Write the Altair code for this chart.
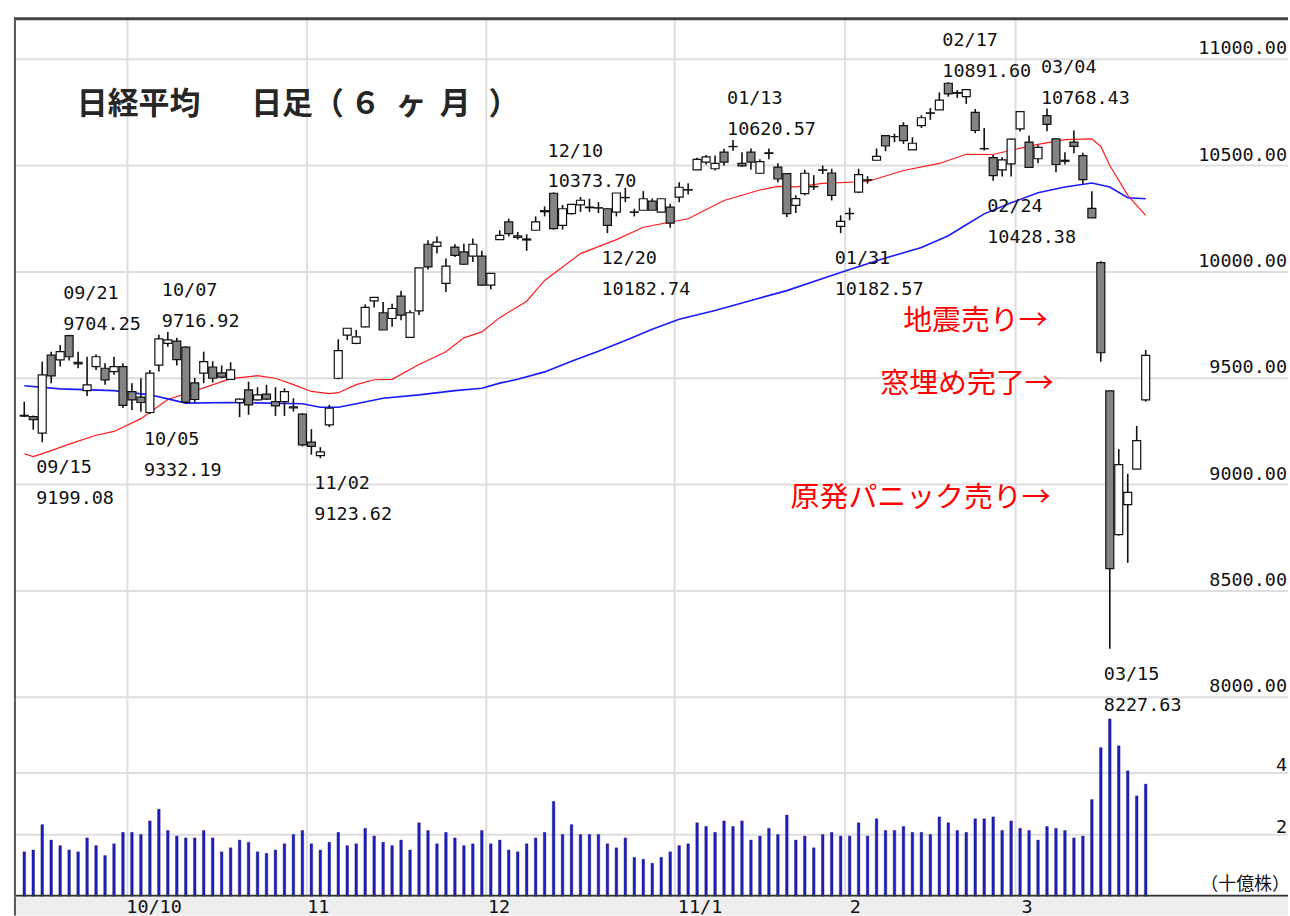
import altair as alt
import pandas as pd

# ---------------- data ----------------
sep = ["09/13", "09/14", "09/15", "09/16", "09/17", "09/21", "09/22", "09/24", "09/27", "09/28", "09/29", "09/30"]
oct_ = ["10/01", "10/04", "10/05", "10/06", "10/07", "10/08", "10/12", "10/13", "10/14", "10/15", "10/18", "10/19",
        "10/20", "10/21", "10/22", "10/25", "10/26", "10/27", "10/28", "10/29"]
nov = ["11/01", "11/02", "11/04", "11/05", "11/08", "11/09", "11/10", "11/11", "11/12", "11/15", "11/16", "11/17",
       "11/18", "11/19", "11/22", "11/24", "11/25", "11/26", "11/29", "11/30"]
dec = ["12/01", "12/02", "12/03", "12/06", "12/07", "12/08", "12/09", "12/10", "12/13", "12/14", "12/15", "12/16",
       "12/17", "12/20", "12/21", "12/22", "12/24", "12/27", "12/28", "12/29", "12/30"]
jan = ["01/04", "01/05", "01/06", "01/07", "01/11", "01/12", "01/13", "01/14", "01/17", "01/18", "01/19", "01/20",
       "01/21", "01/24", "01/25", "01/26", "01/27", "01/28", "01/31"]
feb = ["02/01", "02/02", "02/03", "02/04", "02/07", "02/08", "02/09", "02/10", "02/14", "02/15", "02/16", "02/17",
       "02/18", "02/21", "02/22", "02/23", "02/24", "02/25", "02/28"]
mar = ["03/01", "03/02", "03/03", "03/04", "03/07", "03/08", "03/09", "03/10", "03/11", "03/14", "03/15", "03/16",
       "03/17", "03/18", "03/22"]
dates = sep + oct_ + nov + dec + jan + feb + mar

opens = [9325, 9320, 9242, 9609, 9586, 9700, 9575, 9442, 9555, 9547, 9531, 9555,
         9437, 9411, 9339, 9562, 9664, 9675, 9646, 9478, 9524, 9553, 9525, 9495,
         9386, 9445, 9398, 9425, 9390, 9390, 9366, 9331,
         9200, 9136, 9281, 9500, 9703, 9664, 9742, 9864, 9808, 9781, 9886, 9692,
         9817, 10130, 10120, 9946, 10117, 10094, 10074, 10074,
         9938, 10152, 10235, 10170, 10155, 10196, 10283, 10370, 10219, 10274, 10315, 10305,
         10300, 10297, 10281, 10350, 10282, 10290, 10333, 10281, 10305,
         10352, 10385, 10480, 10516, 10485, 10563, 10590, 10510, 10563, 10464, 10560, 10493,
         10462, 10313, 10368, 10400, 10480, 10465, 10214,
         10275, 10375, 10433, 10525, 10641, 10636, 10688, 10574, 10688, 10748, 10762, 10887,
         10840, 10824, 10750, 10580, 10537, 10480, 10508,
         10673, 10610, 10532, 10735, 10626, 10520, 10610, 10547, 10299, 10044, 9441, 8765,
         8906, 9073, 9398]
highs = [9390, 9325, 9578, 9625, 9656, 9704.25, 9625, 9601, 9613, 9570, 9601, 9570,
         9477, 9500, 9539, 9705, 9716.92, 9690, 9650, 9502, 9625, 9580, 9560, 9575,
         9405, 9484, 9458, 9469, 9458, 9453, 9406, 9336,
         9261, 9176, 9375, 9683, 9735, 9727, 9847, 9880, 9859, 9850, 9911, 9820,
         10019, 10149, 10167, 10063, 10130, 10133, 10157, 10099,
         9993, 10196, 10250, 10188, 10177, 10261, 10308, 10373.70, 10315, 10318, 10352, 10344,
         10328, 10300, 10371, 10396, 10297, 10380, 10345, 10344, 10320,
         10422, 10417, 10537, 10550, 10547, 10579, 10620.57, 10563, 10580, 10530, 10580, 10511,
         10462, 10360, 10480, 10455, 10500, 10485, 10266,
         10302, 10485, 10450, 10580, 10641, 10650, 10704, 10633, 10737, 10771, 10844, 10891.60,
         10855, 10860, 10766, 10677, 10550, 10539, 10626,
         10755, 10641, 10595, 10768.43, 10626, 10563, 10665, 10560, 10379, 10050, 9441, 9167,
         9051, 9276, 9633]
lows = [9318, 9258, 9199.08, 9477, 9555, 9583, 9547, 9417, 9539, 9469, 9516, 9360,
        9351, 9343, 9332.19, 9532, 9648, 9560, 9380, 9386, 9477, 9480, 9500, 9492,
        9317, 9328, 9395, 9398, 9323, 9323, 9343, 9179,
        9140, 9123.62, 9270, 9495, 9680, 9660, 9740, 9833, 9727, 9742, 9773, 9692,
        9797, 10011, 10086, 9906, 10070, 10034, 10047, 9935,
        9918, 10150, 10167, 10152, 10099, 10196, 10261, 10199, 10199, 10270, 10282, 10282,
        10277, 10182.74, 10261, 10328, 10261, 10290, 10290, 10281, 10208,
        10328, 10364, 10480, 10505, 10477, 10500, 10570, 10495, 10480, 10460, 10530, 10422,
        10258, 10277, 10360, 10385, 10460, 10336, 10182.57,
        10243, 10370, 10415, 10522, 10568, 10610, 10602, 10574, 10677, 10715, 10762, 10824,
        10818, 10790, 10652, 10571, 10428.38, 10449, 10449,
        10660, 10490, 10511, 10661, 10469, 10505, 10558, 10415, 10254, 9578, 8227.63, 8760,
        8632, 9073, 9390]
closes = [9322, 9305, 9516, 9511, 9625, 9601, 9568, 9469, 9601, 9492, 9555, 9372,
          9398, 9386, 9524, 9685, 9680, 9588, 9388, 9400, 9578, 9500, 9505, 9539,
          9402, 9375, 9422, 9402, 9370, 9437, 9360, 9187,
          9180, 9154, 9359, 9630, 9735, 9695, 9833, 9880, 9727, 9828, 9797, 9808,
          10019, 10024, 10140, 10027, 10078, 10036, 10130, 9938,
          9993, 10172, 10180, 10162, 10150, 10235, 10288, 10204, 10297, 10318, 10337, 10302,
          10302, 10219, 10371, 10349, 10280, 10344, 10290, 10344, 10229,
          10398, 10387, 10529, 10541, 10510, 10516, 10589, 10499, 10516, 10519, 10557, 10437,
          10274, 10345, 10464, 10402, 10478, 10360, 10238,
          10274, 10457, 10431, 10543, 10592, 10636, 10617, 10605, 10725, 10746, 10808, 10837,
          10843, 10857, 10665, 10579, 10453, 10527, 10624,
          10754, 10492, 10586, 10694, 10505, 10525, 10590, 10434, 10254, 9620, 8605, 9094,
          8963, 9207, 9608]
volumes = [1.45, 1.51, 2.33, 1.83, 1.65, 1.51, 1.45, 1.90, 1.65, 1.33, 1.71, 2.08,
           2.08, 2.01, 2.45, 2.83, 2.14, 1.96, 1.90, 1.90, 2.14, 1.90, 1.45, 1.58, 1.83, 1.76, 1.45, 1.40, 1.51, 1.71,
           2.01, 2.14,
           1.71, 1.51, 1.76, 2.08, 1.65, 1.71, 2.21, 1.96, 1.76, 1.65, 1.83, 1.51, 2.39, 2.14, 1.71, 2.08, 1.90, 1.65,
           1.71, 2.14,
           1.71, 1.83, 1.51, 1.45, 1.71, 1.90, 2.08, 3.08, 2.01, 2.33, 2.01, 2.01, 2.01, 1.71, 1.58, 1.90, 1.27, 1.21,
           1.08, 1.27, 1.45,
           1.65, 1.71, 2.39, 2.27, 2.08, 2.45, 2.27, 2.45, 1.83, 1.96, 2.21, 2.01, 2.64, 1.83, 1.96, 1.58, 2.01, 2.08,
           1.96,
           1.96, 2.39, 1.96, 2.52, 2.14, 2.14, 2.27, 2.08, 2.08, 2.01, 2.58, 2.39, 2.14, 2.08, 2.52, 2.52, 2.58, 2.14,
           2.45,
           2.21, 2.14, 1.83, 2.27, 2.21, 2.14, 1.90, 1.96, 3.14, 4.82, 5.75, 4.88, 4.07, 3.26, 3.64]

# moving averages (bar index, value)
ma_short_idx = [0, 1, 3, 5, 8, 10, 13, 16, 20, 23, 26, 28, 30, 32, 34, 35, 37, 39, 41, 44, 47, 49, 51, 53, 56, 58,
                62, 66, 69, 74, 78, 82, 84, 86, 89, 94, 98, 102, 105, 108, 110, 113, 116, 119, 120, 121, 123, 125]
ma_short_val = [9145, 9132, 9160, 9190, 9232, 9250, 9310, 9400, 9455, 9498, 9512, 9500, 9470, 9438, 9428, 9432,
                9470, 9493, 9495, 9565, 9625, 9690, 9718, 9785, 9862, 9960, 10086, 10152, 10210, 10250, 10336,
                10385, 10402, 10400, 10416, 10425, 10477, 10510, 10553, 10552, 10572, 10600, 10622, 10626, 10590,
                10500, 10360, 10266]
ma_long_idx = [0, 4, 10, 14, 16, 18, 23, 31, 33, 35, 37, 40, 44, 48, 51, 53, 55, 58, 61, 64, 67, 70, 73, 77, 81,
               85, 89, 92, 96, 100, 103, 105, 107, 110, 113, 116, 119, 121, 123, 125]
ma_long_val = [9465, 9450, 9442, 9422, 9403, 9383, 9386, 9380, 9364, 9364, 9380, 9406, 9422, 9442, 9453, 9477,
               9495, 9530, 9580, 9627, 9678, 9730, 9777, 9819, 9866, 9912, 9969, 10011, 10065, 10115, 10170,
               10222, 10273, 10325, 10372, 10399, 10418, 10399, 10349, 10344]

ann_dates = ["09/15", "09/21", "10/05", "10/07", "11/02", "12/10", "12/20", "01/13", "01/31", "02/17", "02/24",
             "03/04", "03/15"]
ann_values = [9199.08, 9704.25, 9332.19, 9716.92, 9123.62, 10373.70, 10182.74, 10620.57, 10182.57, 10891.60,
              10428.38, 10768.43, 8227.63]
ann_kind = ["low", "high", "low", "high", "low", "high", "low", "high", "low", "high", "low", "high", "low"]

price_ticks = [8000, 8500, 9000, 9500, 10000, 10500, 11000]
price_tick_labels = ["8000.00", "8500.00", "9000.00", "9500.00", "10000.00", "10500.00", "11000.00"]
vol_ticks = [2, 4]
vol_tick_labels = ["2", "4"]
month_labels = ["10/10", "11", "12", "11/1", "2", "3"]
month_first = ["10/01", "11/01", "12/01", "01/04", "02/01", "03/01"]

title_main = "日経平均"
title_sub = "日足"
title_span = ["（", "６", "ヶ", "月", "）"]
notes = ["地震売り→", "窓埋め完了→", "原発パニック売り→"]

# ---------------- frames ----------------
n = len(dates)
df = pd.DataFrame({"i": list(range(n)), "date": dates, "open": opens, "high": highs, "low": lows,
                   "close": closes, "vol": volumes})
pos = {d: k for k, d in enumerate(dates)}
ann = pd.DataFrame({"i": [pos[d] for d in ann_dates], "date": ann_dates, "v": ann_values,
                    "vs": [f"{v:.2f}" for v in ann_values], "kind": ann_kind})
months = pd.DataFrame({"b": [pos[d] - 0.5 for d in month_first], "label": month_labels})
ptick = pd.DataFrame({"p": price_ticks, "label": price_tick_labels})
vtick = pd.DataFrame({"v": vol_ticks, "label": vol_tick_labels})
ma_s = pd.DataFrame({"i": ma_short_idx, "m": ma_short_val})
ma_l = pd.DataFrame({"i": ma_long_idx, "m": ma_long_val})
one = pd.DataFrame({"k": [0]})

W = 1278
H_P = 684
H_V = 198
H_B = 19
STEP = 9.07
XMIN = -5.4 / STEP
XMAX = XMIN + W / STEP
XS = alt.Scale(domain=[XMIN, XMAX], nice=False, zero=False)
PX = 4.6875  # yen per pixel
PS = alt.Scale(domain=[8000 - 2 * PX, 11000 + 42 * PX], nice=False, zero=False)
VS = alt.Scale(domain=[0, H_V / 31.0], nice=False, zero=False)

MONO = "DejaVu Sans Mono"
JP = "Noto Sans CJK JP"
GRID = "#dedede"
FS = 18.5


def xq(field):
    return alt.X(field, type="quantitative", scale=XS, axis=None)


def pq(field):
    return alt.Y(field, type="quantitative", scale=PS, axis=None)


# ---------------- price panel ----------------
hgrid = alt.Chart(ptick).mark_rule(color=GRID, strokeWidth=2).encode(y=pq("p"))
vgrid_p = alt.Chart(months).mark_rule(color=GRID, strokeWidth=2).encode(x=xq("b"))
plabels = alt.Chart(ptick).mark_text(align="right", baseline="middle", font=MONO, fontSize=FS, dy=-11,
                                     color="#111").encode(y=pq("p"), x=alt.value(W - 1), text="label:N")

line_s = alt.Chart(ma_s).mark_line(color="#ff1a1a", strokeWidth=1.2).encode(x=xq("i"), y=pq("m"))
line_l = alt.Chart(ma_l).mark_line(color="#1a1aff", strokeWidth=1.6).encode(x=xq("i"), y=pq("m"))

wick = alt.Chart(df).mark_rule(color="#111", strokeWidth=1.6).encode(x=xq("i"), y=pq("low"), y2="high:Q")
body = alt.Chart(df).mark_bar(size=8, stroke="#111", strokeWidth=1.2).encode(
    x=xq("i"), y=pq("open"), y2="close:Q",
    fill=alt.condition("datum.close < datum.open", alt.value("#838383"), alt.value("#ffffff")))

hi = alt.Chart(ann).transform_filter("datum.kind == 'high'")
lo = alt.Chart(ann).transform_filter("datum.kind == 'low'")
tstyle = dict(align="left", baseline="middle", font=MONO, fontSize=FS, color="#111", dx=-6)
hi_d = hi.mark_text(dy=-42, **tstyle).encode(x=xq("i"), y=pq("v"), text="date:N")
hi_v = hi.mark_text(dy=-11, **tstyle).encode(x=xq("i"), y=pq("v"), text="vs:N")
lo_d = lo.mark_text(dy=25, **tstyle).encode(x=xq("i"), y=pq("v"), text="date:N")
lo_v = lo.mark_text(dy=56, **tstyle).encode(x=xq("i"), y=pq("v"), text="vs:N")

tfont = dict(font=JP, fontSize=31, fontWeight="bold", color="#262626", align="left", baseline="middle")
title_layers = [
    alt.Chart(one).mark_text(text=title_main, **tfont).encode(x=alt.value(63), y=alt.value(88)),
    alt.Chart(one).mark_text(text=title_sub, **tfont).encode(x=alt.value(238), y=alt.value(88)),
]
for ch, px in zip(title_span, [300, 337, 383, 427, 476]):
    title_layers.append(alt.Chart(one).mark_text(text=ch, **tfont).encode(x=alt.value(px), y=alt.value(88)))

nfont = dict(font=JP, fontSize=29, color="#ff0000", align="right", baseline="middle")
n1 = alt.Chart(one).mark_text(text=notes[0], **nfont).encode(x=alt.value(1037), y=alt.value(305))
n2 = alt.Chart(one).mark_text(text=notes[1], **nfont).encode(x=alt.value(1043), y=alt.value(368))
n3 = alt.Chart(one).mark_text(text=notes[2], **nfont).encode(x=alt.value(1040), y=alt.value(482))

top_border = alt.Chart(one).mark_rule(color="#444", strokeWidth=3).encode(
    x=alt.value(0), x2=alt.value(W), y=alt.value(1.5))
left_p = alt.Chart(one).mark_rule(color="#555", strokeWidth=2).encode(
    x=alt.value(1), y=alt.value(0), y2=alt.value(H_P))

price = alt.layer(hgrid, vgrid_p, plabels, line_s, line_l, wick, body, hi_d, hi_v, lo_d, lo_v,
                  *title_layers, n1, n2, n3, top_border, left_p).properties(width=W, height=H_P)

# ---------------- volume panel ----------------
vgrid_v = alt.Chart(months).mark_rule(color=GRID, strokeWidth=2).encode(x=xq("b"))
vhgrid = alt.Chart(vtick).mark_rule(color=GRID, strokeWidth=2).encode(
    y=alt.Y("v:Q", scale=VS, axis=None))
vlabels = alt.Chart(vtick).mark_text(align="right", baseline="middle", font=MONO, fontSize=FS, dy=-8,
                                     color="#111").encode(y=alt.Y("v:Q", scale=VS, axis=None),
                                                          x=alt.value(W - 1), text="label:N")
unit = alt.Chart(one).mark_text(text="（十億株）", font=JP, fontSize=18, color="#111", align="right",
                                baseline="middle").encode(x=alt.value(W + 2), y=alt.value(186))
vbars = alt.Chart(df).mark_bar(size=2.6, color="#1f1fbf", stroke="#12127a", strokeWidth=0.4).encode(
    x=xq("i"), y=alt.Y("vol:Q", scale=VS, axis=None))
bottom_line = alt.Chart(one).mark_rule(color="#333", strokeWidth=2).encode(
    x=alt.value(0), x2=alt.value(W), y=alt.value(H_V - 1))
left_v = alt.Chart(one).mark_rule(color="#555", strokeWidth=2).encode(
    x=alt.value(1), y=alt.value(0), y2=alt.value(H_V))

volume = alt.layer(vhgrid, vgrid_v, vlabels, unit, vbars, bottom_line, left_v).properties(width=W, height=H_V)

# ---------------- date band ----------------
band_bg = alt.Chart(one).mark_rect(color="#eeeeee").encode(
    x=alt.value(0), x2=alt.value(W), y=alt.value(0), y2=alt.value(H_B))
band_txt = alt.Chart(months).mark_text(align="left", baseline="middle", font=MONO, fontSize=FS, dx=3,
                                       color="#111").encode(x=xq("b"), y=alt.value(10), text="label:N")
left_b = alt.Chart(one).mark_rule(color="#555", strokeWidth=2).encode(
    x=alt.value(1), y=alt.value(0), y2=alt.value(H_B))
band = alt.layer(band_bg, band_txt, left_b).properties(width=W, height=H_B)

chart = alt.vconcat(price, volume, band, spacing=0, bounds="flush").properties(
    padding={"left": 12, "top": 15, "right": 0, "bottom": 0},
    background="white",
).configure_view(stroke=None)

chart.save("out.html", embed_options={"renderer": "svg", "actions": False})
